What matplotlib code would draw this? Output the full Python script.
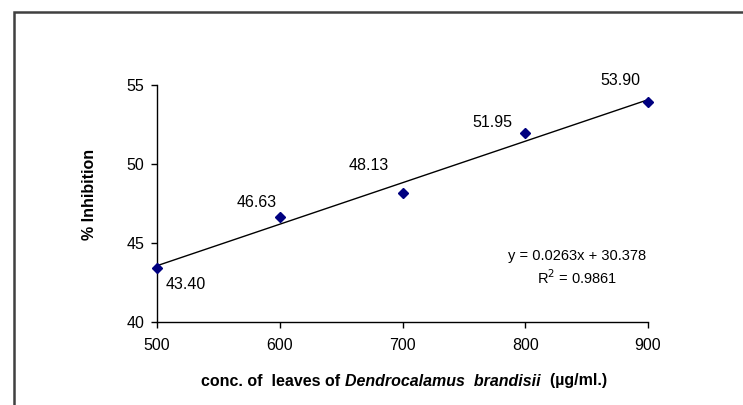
import matplotlib
matplotlib.use("Agg")
import matplotlib.pyplot as plt
import numpy as np
from matplotlib.patches import Rectangle

plt.rcParams['font.family'] = ['Liberation Sans', 'DejaVu Sans']

conc = [500, 600, 700, 800, 900]
inhibition = [43.40, 46.63, 48.13, 51.95, 53.90]
labels = ["43.40", "46.63", "48.13", "51.95", "53.90"]
label_offsets = [(29, -17), (-23, 14), (-34, 28), (-33, 11), (-28, 22)]
x_ticks = [500, 600, 700, 800, 900]
y_ticks = [40, 45, 50, 55]

FS = 11.5
W, H = 743, 405
fig = plt.figure(figsize=(W / 100, H / 100), dpi=100)
fig.patch.set_facecolor('white')

# outer frame
fig.patches.append(Rectangle((14 / W, -0.1), 2, 1 - 12 / H + 0.1, transform=fig.transFigure,
                             fill=False, edgecolor='#404040', linewidth=1.8, zorder=0))

left, right, top, bottom = 157, 648, 85, 321.5
ax = fig.add_axes([left / W, 1 - bottom / H, (right - left) / W, (bottom - top) / H])

slope, intercept = np.polyfit(conc, inhibition, 1)
xs = np.array([conc[0], conc[-1]])
ax.plot(xs, slope * xs + intercept, color='black', linewidth=1, zorder=2)
ax.plot(conc, inhibition, linestyle='none', marker='D', markersize=5,
        color='#000080', zorder=3)

for x, y, lab, (dx, dy) in zip(conc, inhibition, labels, label_offsets):
    ax.annotate(lab, (x, y), xytext=(dx, dy), textcoords='offset pixels',
                ha='center', va='center', fontsize=FS, color='black')

ax.set_xlim(500, 900)
ax.set_ylim(40, 55)
ax.set_xticks(x_ticks)
ax.set_yticks(y_ticks)
ax.tick_params(direction='out', length=4, width=1, labelsize=FS, pad=5, colors='black')
ax.tick_params(axis='x', pad=8)
for s in ['top', 'right']:
    ax.spines[s].set_visible(False)
for s in ['left', 'bottom']:
    ax.spines[s].set_linewidth(1)
    ax.spines[s].set_color('black')
for art in ax.lines:
    art.set_clip_on(False)

# equation text
fig.text(577 / W, 1 - 256 / H, "y = 0.0263x + 30.378", ha='center', va='center', fontsize=10.5)
fig.text(577 / W, 1 - 278 / H, r"R$^2$ = 0.9861", ha='center', va='center', fontsize=10.5)

# y label
fig.text(89 / W, 1 - 194 / H, "% Inhibition", rotation=90, ha='center', va='center',
         fontsize=FS, fontweight='bold')

# x label with mixed styles
pieces = [("conc. of  leaves of ", 'normal'), ("Dendrocalamus  brandisii", 'italic'),
          ("  (µg/ml.)", 'normal')]
texts = []
for txt, style in pieces:
    t = fig.text(0, 1 - 381 / H, txt, ha='left', va='center', fontsize=FS,
                 fontweight='bold', fontstyle=style)
    texts.append(t)
fig.canvas.draw()
r = fig.canvas.get_renderer()
widths = [t.get_window_extent(r).width for t in texts]
total = sum(widths)
xstart = 404 - total / 2
for t, w in zip(texts, widths):
    t.set_x(xstart / W)
    xstart += w

fig.savefig("out.png", dpi=100, facecolor='white')
